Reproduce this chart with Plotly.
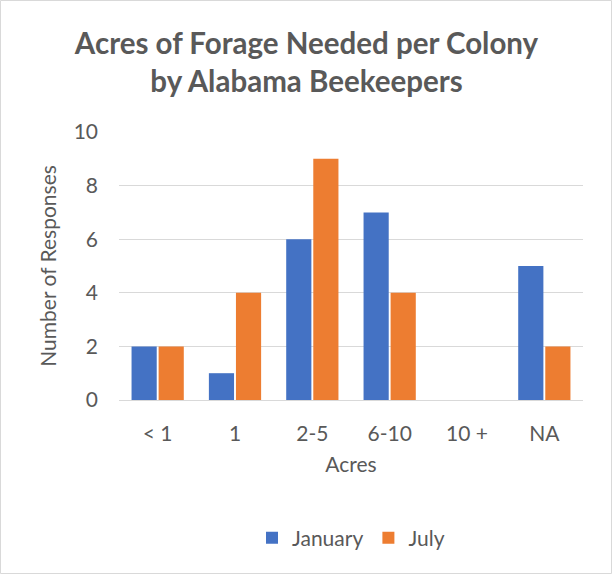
import plotly.graph_objects as go

categories = ["< 1", "1", "2-5", "6-10", "10 +", "NA"]
january = [2, 1, 6, 7, 0, 5]
july = [2, 4, 9, 4, 0, 2]
y_ticks = [0, 2, 4, 6, 8, 10]

W, H = 613, 575
L, R, T, B = 119, 30, 132, 175
pw, ph = W - L - R, H - T - B

grey = "#595959"
font = "Lato"
fs = 21

fig = go.Figure()
fig.add_trace(go.Bar(name="January", x=categories, y=january,
                     marker=dict(color="#4472C4", line=dict(width=0))))
fig.add_trace(go.Bar(name="July", x=categories, y=july,
                     marker=dict(color="#ED7D31", line=dict(width=0))))

fig.update_layout(
    width=W, height=H,
    margin=dict(l=L, r=R, t=T, b=B, autoexpand=False),
    paper_bgcolor="white", plot_bgcolor="white",
    barmode="group", bargap=0.30, bargroupgap=0.07,
    font=dict(family=font, color=grey, size=fs),
    title=dict(text="<b>Acres of Forage Needed per Colony<br>by Alabama Beekeepers</b>",
               x=0.5, xanchor="center", y=1 - 54 / H, yanchor="middle",
               font=dict(family=font, size=29.5, color=grey)),
    xaxis=dict(showgrid=False, showline=True, linecolor="#D9D9D9", linewidth=1,
               ticks="", ticklabelstandoff=15,
               tickfont=dict(size=fs, color=grey),
               title=dict(text="Acres", font=dict(size=fs, color=grey), standoff=13)),
    yaxis=dict(range=[0, 10], tickvals=y_ticks, showgrid=True, gridcolor="#D9D9D9",
               gridwidth=1, zeroline=False, showline=False, ticks="",
               ticklabelstandoff=20, tickfont=dict(size=fs, color=grey),
               title=dict(text="Number of Responses", font=dict(size=fs, color=grey), standoff=11)),
    legend=dict(orientation="h", x=0.5, xanchor="center", y=-(538 - (H - B)) / ph,
                yanchor="middle", font=dict(size=fs, color=grey),
                itemwidth=30, traceorder="normal"),
    shapes=[dict(type="rect", xref="paper", yref="paper",
                 x0=(0.5 - L) / pw, x1=(W - 1.5 - L) / pw,
                 y0=-(H - 1.5 - (H - B)) / ph, y1=1 + (T - 0.5) / ph,
                 line=dict(color="#D9D9D9", width=1), layer="below")],
)

fig.write_html("out.html", config={"displayModeBar": False},
               post_script="document.body.style.margin='0';document.body.style.overflow='hidden';")
